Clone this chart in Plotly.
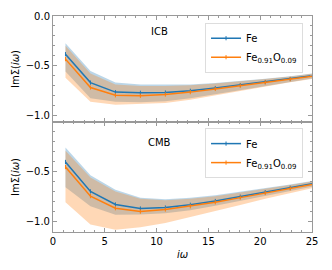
import plotly.graph_objects as go

# Matsubara frequencies
iw = [1.205, 3.615, 6.025, 8.435, 10.845, 13.255, 15.665, 18.075, 20.485, 22.895, 25.305]

# ICB panel
fe_icb = [-0.385, -0.672, -0.768, -0.775, -0.772, -0.755, -0.727, -0.697, -0.666, -0.635, -0.600]
fe_icb_hi = [-0.276, -0.556, -0.672, -0.690, -0.692, -0.690, -0.675, -0.655, -0.632, -0.607, -0.575]
fe_icb_lo = [-0.560, -0.830, -0.865, -0.870, -0.860, -0.830, -0.790, -0.748, -0.705, -0.665, -0.625]
feo_icb = [-0.435, -0.722, -0.800, -0.805, -0.792, -0.768, -0.736, -0.703, -0.670, -0.638, -0.603]
feo_icb_hi = [-0.300, -0.580, -0.690, -0.705, -0.705, -0.698, -0.680, -0.660, -0.636, -0.610, -0.578]
feo_icb_lo = [-0.623, -0.866, -0.896, -0.890, -0.878, -0.845, -0.800, -0.755, -0.710, -0.668, -0.630]

# CMB panel
fe_cmb = [-0.403, -0.700, -0.832, -0.873, -0.863, -0.835, -0.797, -0.753, -0.708, -0.663, -0.618]
fe_cmb_hi = [-0.257, -0.538, -0.684, -0.764, -0.780, -0.765, -0.740, -0.705, -0.668, -0.630, -0.590]
fe_cmb_lo = [-0.657, -0.850, -0.937, -0.934, -0.920, -0.890, -0.845, -0.795, -0.745, -0.695, -0.648]
feo_cmb = [-0.454, -0.748, -0.870, -0.904, -0.883, -0.850, -0.810, -0.763, -0.716, -0.670, -0.625]
feo_cmb_hi = [-0.290, -0.560, -0.700, -0.775, -0.790, -0.775, -0.748, -0.712, -0.673, -0.635, -0.595]
feo_cmb_lo = [-0.810, -1.035, -1.086, -1.063, -1.018, -0.960, -0.900, -0.838, -0.775, -0.715, -0.660]

labels = ["Fe", "Fe<sub>0.91</sub>O<sub>0.09</sub>"]
panels = ["ICB", "CMB"]
x_ticks = [0, 5, 10, 15, 20, 25]

BLUE = "#1f77b4"
ORANGE = "#ff7f0e"
BLUE_FILL = "rgba(31,119,180,0.30)"
ORANGE_FILL = "rgba(255,127,14,0.30)"
SPINE = "#999999"
FONT = "DejaVu Sans"

fig = go.Figure()

data = [
    ("x", "y", "legend", [(fe_icb, fe_icb_hi, fe_icb_lo), (feo_icb, feo_icb_hi, feo_icb_lo)]),
    ("x2", "y2", "legend2", [(fe_cmb, fe_cmb_hi, fe_cmb_lo), (feo_cmb, feo_cmb_hi, feo_cmb_lo)]),
]
colors = [BLUE, ORANGE]
fills = [BLUE_FILL, ORANGE_FILL]

for xa, ya, lg, series in data:
    # bands
    for (mid, hi, lo), fc in zip(series, fills):
        fig.add_trace(go.Scatter(x=iw, y=hi, xaxis=xa, yaxis=ya, mode="lines",
                                 line=dict(width=0, color=fc), showlegend=False, hoverinfo="skip"))
        fig.add_trace(go.Scatter(x=iw, y=lo, xaxis=xa, yaxis=ya, mode="lines",
                                 line=dict(width=0, color=fc), fill="tonexty", fillcolor=fc,
                                 showlegend=False, hoverinfo="skip"))
    # lines
    for (mid, hi, lo), c, name in zip(series, colors, labels):
        fig.add_trace(go.Scatter(x=iw, y=mid, xaxis=xa, yaxis=ya, mode="lines+markers",
                                 name=name, legend=lg,
                                 line=dict(width=1.5, color=c),
                                 marker=dict(symbol="line-ns", size=3, color=c,
                                             line=dict(width=1, color=c))))

axis_common = dict(
    showline=True, linecolor=SPINE, linewidth=1, mirror="ticks",
    ticks="inside", ticklen=4, tickcolor=SPINE, tickwidth=1,
    showgrid=False, zeroline=False, automargin=False,
    tickfont=dict(family=FONT, size=10, color="black"),
)

legend_common = dict(xanchor="left", yanchor="top", traceorder="normal",
                     bgcolor="rgba(255,255,255,0.8)", bordercolor="#dddddd", borderwidth=1,
                     font=dict(family=FONT, size=10), itemwidth=30, tracegroupgap=0)

fig.update_layout(
    width=332, height=270,
    margin=dict(l=45, r=28, t=8, b=46),
    paper_bgcolor="white", plot_bgcolor="white",
    font=dict(family=FONT, size=10, color="black"),
    xaxis=dict(domain=[0, 1], anchor="y", range=[0, 25], tickvals=x_ticks,
               showticklabels=False, matches="x2",
               minor=dict(ticks="inside", ticklen=2, dtick=1, tickcolor=SPINE), **axis_common),
    yaxis=dict(domain=[0.509, 1], anchor="x", range=[-1.07, 0], tickvals=[-1.0, -0.5, 0.0],
               tickformat=".1f",
               title=dict(text="ImΣ(<i>iω</i>)", standoff=4, font=dict(family=FONT, size=10)),
               minor=dict(ticks="inside", ticklen=2, dtick=0.1, tickcolor=SPINE), **axis_common),
    xaxis2=dict(domain=[0, 1], anchor="y2", range=[0, 25], tickvals=x_ticks,
                title=dict(text="<i>iω</i>", standoff=4, font=dict(family=FONT, size=10)),
                minor=dict(ticks="inside", ticklen=2, dtick=1, tickcolor=SPINE), **axis_common),
    yaxis2=dict(domain=[0, 0.509], anchor="x2", range=[-1.11, 0], tickvals=[-1.0, -0.5],
                tickformat=".1f",
                title=dict(text="ImΣ(<i>iω</i>)", standoff=4, font=dict(family=FONT, size=10)),
                minor=dict(ticks="inside", ticklen=2, dtick=0.1, tickcolor=SPINE), **axis_common),
    legend=dict(x=0.587, y=0.969, **legend_common),
    legend2=dict(x=0.587, y=0.481, **legend_common),
    annotations=[
        dict(text=panels[0], x=10.3, y=-0.16, xref="x", yref="y", showarrow=False,
             font=dict(family=FONT, size=10)),
        dict(text=panels[1], x=10.3, y=-0.21, xref="x2", yref="y2", showarrow=False,
             font=dict(family=FONT, size=10)),
    ],
)

fig.write_html("out.html")
